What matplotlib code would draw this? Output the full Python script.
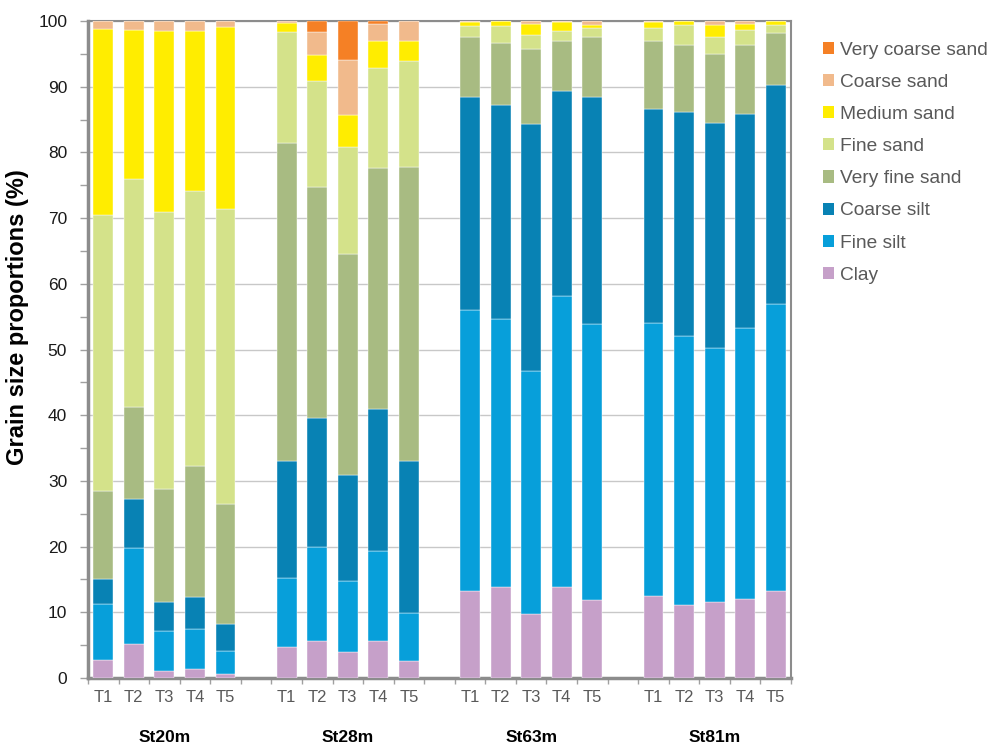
import matplotlib
matplotlib.use("Agg")
import matplotlib.pyplot as plt
import numpy as np
from matplotlib.patches import Patch

plt.rcParams['font.family'] = ['Liberation Sans', 'DejaVu Sans']

stations = ["St20m", "St28m", "St63m", "St81m"]
samples = ["T1", "T2", "T3", "T4", "T5"]

series_names = ["Clay", "Fine silt", "Coarse silt", "Very fine sand",
                "Fine sand", "Medium sand", "Coarse sand", "Very coarse sand"]
colors = ["#C6A0C9", "#079FDA", "#0882B4", "#A8BB82",
          "#D4E28A", "#FFED00", "#F1BA8C", "#F58025"]

# values per series: St20m T1-T5, St28m T1-T5, St63m T1-T5, St81m T1-T5
clay = [2.8, 5.1, 1.1, 1.3, 0.6,
        4.7, 5.7, 4.0, 5.7, 2.6,
        13.2, 13.9, 9.8, 13.8, 11.9,
        12.5, 11.1, 11.5, 12.0, 13.2]
fine_silt = [8.5, 14.7, 6.1, 6.2, 3.5,
             10.5, 14.3, 10.8, 13.6, 7.3,
             42.8, 40.8, 36.9, 44.3, 42.0,
             41.6, 40.9, 38.7, 41.2, 43.8]
coarse_silt = [3.8, 7.5, 4.3, 4.9, 4.1,
               17.8, 19.6, 16.1, 21.6, 23.2,
               32.5, 32.5, 37.6, 31.3, 34.6,
               32.5, 34.2, 34.2, 32.7, 33.3]
very_fine_sand = [13.3, 14.0, 17.3, 19.8, 18.3,
                  48.4, 35.2, 33.7, 36.8, 44.7,
                  9.0, 9.5, 11.4, 7.6, 9.0,
                  10.3, 10.2, 10.6, 10.4, 7.8]
fine_sand = [42.0, 34.6, 42.1, 41.9, 44.9,
             16.9, 16.0, 16.2, 15.2, 16.1,
             1.7, 2.5, 2.2, 1.5, 1.4,
             2.0, 3.0, 2.6, 2.4, 1.3]
medium_sand = [28.4, 22.8, 27.6, 24.4, 27.7,
               1.4, 4.0, 4.9, 4.0, 3.0,
               0.6, 0.8, 1.6, 1.3, 0.5,
               0.9, 0.6, 1.8, 0.9, 0.6]
coarse_sand = [1.2, 1.3, 1.5, 1.5, 0.9,
               0.3, 3.5, 8.4, 2.7, 3.1,
               0.2, 0.0, 0.5, 0.2, 0.6,
               0.2, 0.0, 0.6, 0.4, 0.0]
very_coarse_sand = [0.0, 0.0, 0.0, 0.0, 0.0,
                    0.0, 1.7, 5.9, 0.4, 0.0,
                    0.0, 0.0, 0.0, 0.0, 0.0,
                    0.0, 0.0, 0.0, 0.0, 0.0]

data = [clay, fine_silt, coarse_silt, very_fine_sand,
        fine_sand, medium_sand, coarse_sand, very_coarse_sand]

fig = plt.figure(figsize=(9.94, 7.44), dpi=100)
ax = fig.add_axes([88/994, 1 - 678/744, (791-88)/994, (678-21)/744])

n_s = len(samples)
positions = np.array([g * (n_s + 1) + i for g in range(len(stations)) for i in range(n_s)])

bottom = np.zeros(len(positions))
for vals, col, name in zip(data, colors, series_names):
    v = np.array(vals)
    ax.bar(positions, v, bottom=bottom, width=0.65, color=col,
           edgecolor="white", linewidth=0.3, zorder=3, label=name)
    bottom += v

n_slots = len(stations) * (n_s + 1) - 1
ax.set_xlim(-0.5, n_slots - 0.5)
ax.set_ylim(0, 100)

# y axis
ax.set_yticks(np.arange(0, 101, 10))
ax.set_yticks(np.arange(0, 101, 5), minor=True)
ax.yaxis.grid(True, which="major", color="#C8C8C8", linewidth=1.0, zorder=0)
ax.set_axisbelow(True)
ax.tick_params(axis="y", which="both", direction="out", length=6, width=1,
               color="#A0A0A0", labelsize=12.5, labelcolor="#1a1a1a", pad=9)

# x axis
ax.set_xticks(positions)
ax.set_xticklabels(samples * len(stations))
ax.set_xticks(np.arange(-0.5, n_slots, 1.0), minor=True)
ax.tick_params(axis="x", which="major", length=0, labelsize=12,
               labelcolor="#595959", pad=9)
ax.tick_params(axis="x", which="minor", direction="out", length=4, width=1,
               color="#A0A0A0")

for sp in ax.spines.values():
    sp.set_color("#8C8C8C")
    sp.set_linewidth(1.5)
ax.spines["bottom"].set_linewidth(2.5)
ax.spines["left"].set_linewidth(2.5)

# group labels
trans = ax.get_xaxis_transform()
for g, st in enumerate(stations):
    ax.text(g * (n_s + 1) + (n_s - 1) / 2, -(737 - 678) / 657, st,
            transform=trans, ha="center", va="center",
            fontsize=12.5, fontweight="bold", color="black")

# y axis title
fig.text(18/994, 1 - 317/744, "Grain size proportions (%)", rotation=90,
         ha="center", va="center", fontsize=17, fontweight="bold",
         color="black")

# legend
handles = [Patch(facecolor=c, edgecolor="none", label=n)
           for c, n in zip(colors, series_names)][::-1]
leg = fig.legend(handles=handles, loc="upper left",
                 bbox_to_anchor=(815/994, 1 - 34/744), frameon=False,
                 fontsize=13.8, handlelength=0.6, handleheight=0.6,
                 handletextpad=0.3, labelspacing=0.79, borderaxespad=0)
for t in leg.get_texts():
    t.set_color("#595959")

fig.savefig("out.png", dpi=100)
